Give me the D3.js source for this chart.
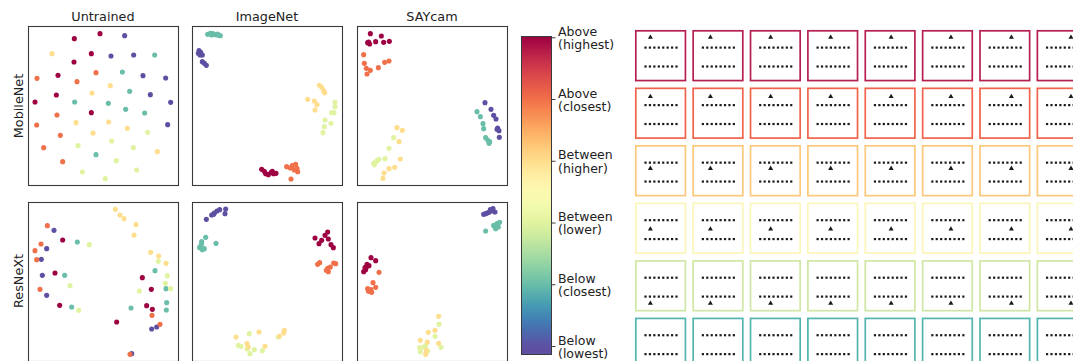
<!DOCTYPE html>
<html><head><meta charset="utf-8">
<script src="https://cdn.jsdelivr.net/npm/d3@7"></script>
<style>
body{margin:0;background:#fff}
svg{display:block}
text{font-family:"DejaVu Sans",sans-serif;fill:#222}
</style>
</head><body>
<svg id="chart" width="1073" height="361"></svg>
<script>
// ---------- data ----------
const columnTitles = ["Untrained", "ImageNet", "SAYcam"];
const rowTitles = ["MobileNet", "ResNeXt"];
const categoryLabels = [
  ["Above", "(highest)"], ["Above", "(closest)"], ["Between", "(higher)"],
  ["Between", "(lower)"], ["Below", "(closest)"], ["Below", "(lowest)"]
];
// embedding coordinates per panel, grouped by category (0 = Above highest ... 5 = Below lowest)
const mobilenetUntrained = [
  [[223,116],[300,101],[274,161],[222,186],[174,226],[105,306],[169,285],[274,338]],
  [[288,218],[111,235],[231,245],[171,345],[110,375],[181,406],[131,443],[188,485]],
  [[156,161],[331,257],[276,279],[228,368],[326,366],[382,385],[279,399],[472,455]],
  [[443,397],[335,423],[234,437],[400,443],[349,482],[410,510],[247,516],[316,536]],
  [[464,165],[367,216],[389,274],[224,306],[325,310],[377,328],[434,339],[288,464]],
  [[374,107],[333,168],[401,165],[429,227],[497,234],[451,284],[512,307],[503,374]]
];
const mobilenetImageNet = [
  [[230,508],[238,514],[242,521],[250,524],[258,518],[266,521],[273,520],[262,514]],
  [[305,500],[316,504],[322,497],[332,493],[336,505],[338,515],[328,510],[318,537]],
  [[403,256],[410,262],[416,272],[419,278],[368,298],[388,303],[396,314],[390,330]],
  [[450,307],[450,320],[440,338],[447,338],[420,360],[438,370],[418,380],[414,398]],
  [[68,103],[76,100],[84,101],[92,104],[98,102],[106,107],[80,105],[100,106]],
  [[42,152],[40,160],[47,157],[52,165],[45,165],[52,185],[58,190],[64,196]]
];
const mobilenetSAYcam = [
  [[60,101],[93,108],[52,128],[58,132],[76,125],[100,127],[117,124],[55,126]],
  [[40,164],[42,190],[48,205],[50,222],[60,211],[84,203],[103,187],[116,183]],
  [[140,383],[156,391],[146,425],[150,477],[133,502],[116,506],[101,519],[98,535]],
  [[130,413],[116,445],[104,476],[86,478],[76,487],[70,490],[80,482],[72,494]],
  [[380,335],[390,350],[398,371],[400,386],[406,413],[412,420],[416,430],[418,425]],
  [[404,308],[422,328],[430,346],[437,357],[442,384],[446,392],[447,412],[440,388]]
];
const resnextUntrained = [
  [[188,149],[165,248],[427,262],[454,297],[440,346],[457,357],[350,395],[179,345]],
  [[142,106],[123,161],[105,181],[110,208],[120,297],[456,375],[480,402],[390,492]],
  [[346,57],[360,74],[372,85],[408,103],[402,134],[452,186],[476,197],[498,219]],
  [[268,163],[475,213],[502,256],[496,279],[512,295],[418,302],[210,286],[236,360]],
  [[232,155],[194,255],[465,241],[498,295],[500,337],[499,359],[393,353],[215,350]],
  [[162,120],[140,175],[124,207],[127,255],[140,315],[455,416],[470,410],[395,490]]
];
const resnextImageNet = [
  [[390,143],[402,160],[410,150],[420,135],[428,125],[430,146],[438,163],[445,172]],
  [[398,222],[404,217],[424,240],[428,234],[430,244],[436,230],[446,218],[452,220]],
  [[153,440],[222,425],[283,438],[298,420],[296,428],[186,460],[190,470],[240,468]],
  [[193,430],[160,465],[168,468],[195,490],[208,478],[232,481],[186,476],[280,440]],
  [[62,141],[50,154],[46,168],[52,178],[58,175],[44,172],[93,159],[50,160]],
  [[64,87],[80,74],[88,68],[96,62],[104,58],[122,56],[120,70],[86,72]]
];
const resnextSAYcam = [
  [[62,202],[76,211],[50,222],[44,232],[40,244],[46,238],[56,226],[48,230]],
  [[86,246],[68,277],[76,291],[52,295],[58,303],[64,306],[62,298],[54,302]],
  [[265,378],[254,420],[234,426],[210,450],[231,455],[265,459],[228,480],[226,492]],
  [[266,402],[254,438],[208,472],[220,470],[272,471],[210,484],[232,482],[226,466]],
  [[406,122],[430,105],[440,100],[448,96],[444,110],[436,115],[438,108],[432,108]],
  [[400,72],[410,68],[420,58],[428,55],[434,65],[406,70],[425,62],[416,66]]
];
const panelData = [
  [mobilenetUntrained, mobilenetImageNet, mobilenetSAYcam],
  [resnextUntrained, resnextImageNet, resnextSAYcam]
];
// axis limits of each panel (x, y)
const xLimits = [[84,534],[21,471],[20,470]];
const yLimits = [[[78,555],[78,555],[78,555]],[[35,512],[35,512],[35,512]]];

// schematic examples: 8 items, probe position along line, probe level per category
const itemCount = 8;
const dotPositions = [0,1,2,3,4,5,6,7];
const probeX = [1.1, 1.7, 2.35, 2.95, 3.65, 4.2, 4.9, 5.4];
const probeLevel = [1.54, 1.45, 0.69, 0.53, -0.36, -0.54];
const lineLevels = [1, 0];
const boxColors = ["#b5204f","#f0624a","#fdc87a","#fbf6b8","#cfe7a4","#52b4ae"];

// ---------- drawing ----------
const svg = d3.select("#chart");
const defs = svg.append("defs");
const color = i => d3.interpolateSpectral(i / 5);

const panelLeft = [28, 192, 357], panelTop = [26, 202], pw = 150, ph = 159;

panelData.forEach((row, r) => {
  row.forEach((groups, c) => {
    const x = d3.scaleLinear().domain(xLimits[c]).range([panelLeft[c], panelLeft[c] + pw]);
    const y = d3.scaleLinear().domain(yLimits[r][c]).range([panelTop[r], panelTop[r] + ph]);
    const id = `clip${r}${c}`;
    defs.append("clipPath").attr("id", id)
      .append("rect").attr("x", panelLeft[c]).attr("y", panelTop[r]).attr("width", pw).attr("height", ph);
    const g = svg.append("g").attr("clip-path", `url(#${id})`);
    d3.range(groups.length - 1, -1, -1).forEach(k => {
      g.selectAll(null).data(groups[k]).enter().append("circle")
        .attr("cx", d => x(d[0])).attr("cy", d => y(d[1])).attr("r", 2.55)
        .attr("fill", color(k));
    });
    svg.append("rect").attr("x", panelLeft[c] + 0.5).attr("y", panelTop[r] + 0.5)
      .attr("width", pw).attr("height", ph)
      .attr("fill", "none").attr("stroke", "#3a3a3a").attr("stroke-width", 1.1);
  });
});

columnTitles.forEach((t, c) => {
  svg.append("text").attr("x", panelLeft[c] + pw / 2).attr("y", 21)
    .attr("text-anchor", "middle").attr("font-size", 12.8).text(t);
});
rowTitles.forEach((t, r) => {
  const cy = panelTop[r] + (r === 0 ? 80 : 79);
  svg.append("text").attr("transform", `translate(23,${cy}) rotate(-90)`)
    .attr("text-anchor", "middle").attr("font-size", 12.8).text(t);
});

// colorbar
const cbX = 521, cbW = 31, cbTop = 36, cbBottom = 355;
const cbScale = d3.scaleLinear().domain([0, 5]).range([37.3, 346]);
const grad = defs.append("linearGradient").attr("id", "cbgrad")
  .attr("x1", 0).attr("y1", 0).attr("x2", 0).attr("y2", 1);
d3.range(0, 1.0001, 0.02).forEach(o => {
  const v = cbScale.invert(cbTop + o * (cbBottom - cbTop));
  const t = Math.max(0, Math.min(1, v / 5));
  grad.append("stop").attr("offset", o).attr("stop-color", d3.interpolateSpectral(t));
});
svg.append("rect").attr("x", cbX).attr("y", cbTop).attr("width", cbW).attr("height", cbBottom - cbTop)
  .attr("fill", "url(#cbgrad)");
svg.append("rect").attr("x", cbX + 0.5).attr("y", cbTop + 0.5).attr("width", cbW - 1).attr("height", cbBottom - cbTop - 1)
  .attr("fill", "none").attr("stroke", "#3a3a3a").attr("stroke-width", 1);
const cbAxis = svg.append("g").attr("transform", `translate(${cbX + cbW},0)`)
  .call(d3.axisRight(cbScale).tickValues(d3.range(6)).tickSize(3.5).tickFormat(""));
cbAxis.select(".domain").remove();
cbAxis.selectAll("line").attr("stroke", "#3a3a3a");
categoryLabels.forEach((lines, i) => {
  const t = svg.append("text").attr("x", 558).attr("y", cbScale(i) - 1.5).attr("font-size", 12.5);
  lines.forEach((l, j) => t.append("tspan").attr("x", 558).attr("dy", j === 0 ? 0 : 13.4).text(l));
});

// schematic grid
const colScale = d3.scaleBand().domain(d3.range(itemCount)).range([635, 635 + 56.6 * itemCount]).paddingInner(0.107).paddingOuter(0).align(0);
const rowScale = d3.scaleBand().domain(d3.range(6)).range([30, 30 + 56.5 * 6]).paddingInner(0.107).paddingOuter(0).align(0);
const bw = colScale.bandwidth(), bh = rowScale.bandwidth();
const tri = d3.symbol().type(d3.symbolTriangle).size(11);
for (let r = 0; r < 6; r++) {
  for (let c = 0; c < itemCount; c++) {
    const bx = colScale(c), by = rowScale(r);
    const g = svg.append("g");
    g.append("rect").attr("x", bx + 0.8).attr("y", by + 0.8).attr("width", bw - 1.6).attr("height", bh - 1.6)
      .attr("fill", "#fff").attr("stroke", boxColors[r]).attr("stroke-width", 1.7);
    const xs = d3.scaleLinear().domain([0, 7]).range([bx + 10.5, bx + 41.5]);
    const ys = d3.scaleLinear().domain([0, 1]).range([by + 36.5, by + 17.6]);
    lineLevels.forEach(lv => {
      g.selectAll(null).data(dotPositions).enter().append("rect")
        .attr("x", d => xs(d) - 1.1).attr("y", ys(lv) - 1.1).attr("width", 2.2).attr("height", 2.2)
        .attr("fill", "#1a1a1a");
    });
    g.append("path").attr("d", tri)
      .attr("transform", `translate(${xs(probeX[c])},${ys(probeLevel[r])})`).attr("fill", "#1a1a1a");
  }
}
</script>
</body></html>
